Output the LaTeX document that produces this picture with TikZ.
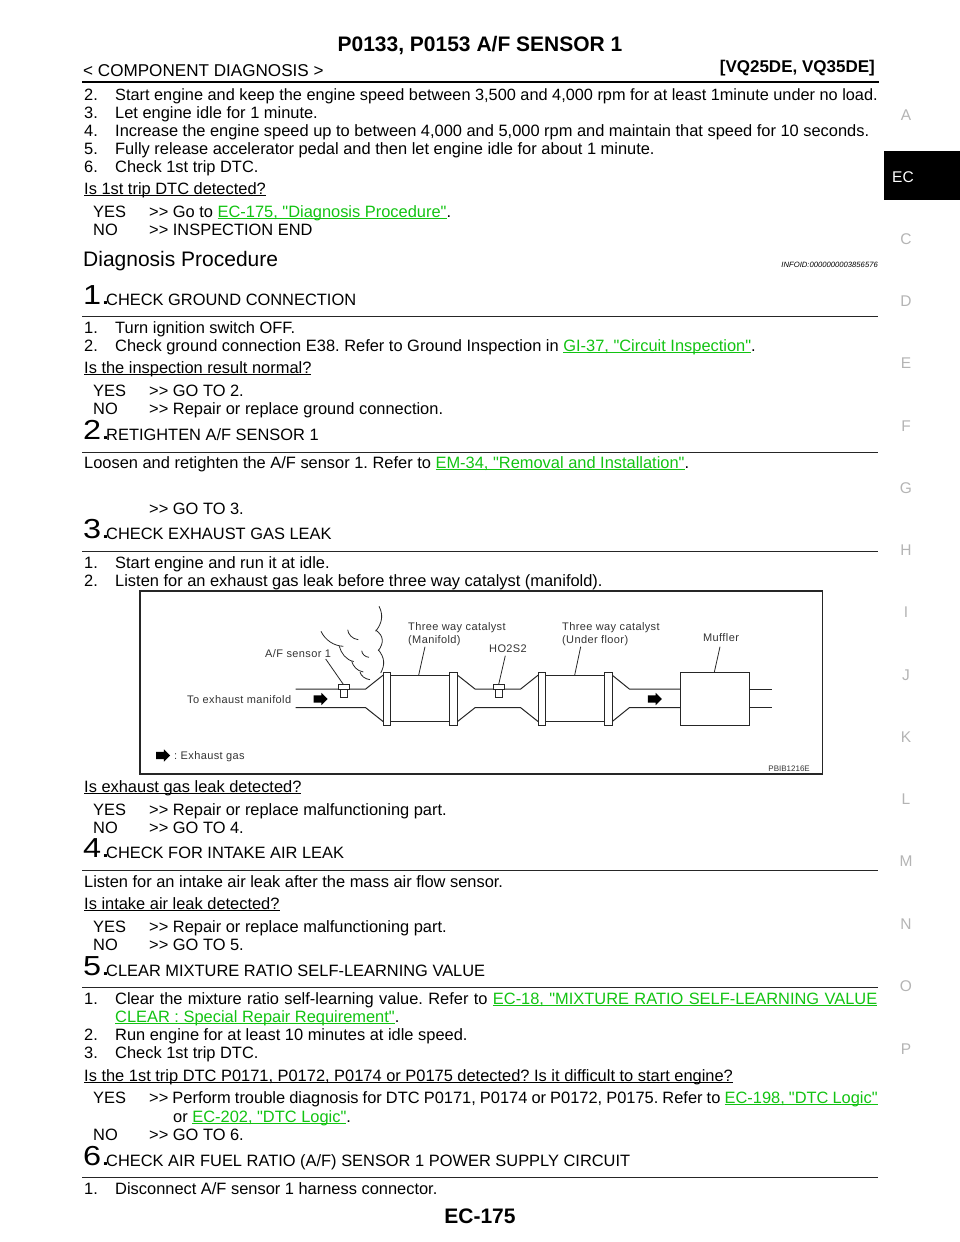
\documentclass[tikz,border=0pt]{standalone}
\usepackage{fontspec}
\defaultfontfeatures[\rmfamily]{Scale=1}
\setmainfont{Liberation Sans}
\newfontfamily\lblfont[LetterSpace=3.5]{Liberation Sans}
\newfontfamily\numfont[FakeStretch=1.18]{Liberation Sans}
\usetikzlibrary{shapes.arrows}
\definecolor{linkgreen}{HTML}{12C312}
\definecolor{sidegray}{HTML}{B4B4B4}
\newcommand{\ulined}[1]{\setbox0\hbox{#1}\rlap{\rule[-2.2pt]{\wd0}{0.9pt}}\box0}
\newcommand{\lnk}[1]{{\color{linkgreen}\ulined{#1}}}
\tikzset{
  txt/.style={anchor=base west,inner sep=0pt,font=\fontsize{16.42}{18}\selectfont},
  txtfit/.style={anchor=base west,inner sep=0pt,font=\fontsize{16.31}{18}\selectfont},
  num/.style={anchor=base west,inner sep=0pt,font=\numfont\fontsize{27.5}{32}\selectfont},
  side/.style={anchor=base,inner sep=0pt,text=sidegray,font=\fontsize{15.5}{18}\selectfont},
  lbl/.style={anchor=base west,inner sep=0pt,text=black!80,font=\lblfont\fontsize{11}{12}\selectfont},
  part/.style={draw=black!85,fill=white,line width=1pt,inner sep=0pt},
  gasarrow/.style={single arrow,fill=black,inner sep=3.5pt,minimum height=14pt,single arrow head extend=2.5pt},
  rul/.style={line width=1pt,black!85},
  pipe/.style={line width=1pt,black!85},
  thin line/.style={line width=.8pt,black!85}
}
\frenchspacing
\begin{document}
\begin{tikzpicture}[x=1pt,y=-1pt]
\useasboundingbox (0,0) rectangle (960,1242);
% header
\node [anchor=base,inner sep=0pt,font=\fontsize{21}{24}\selectfont\bfseries, name=title] at (480,51) {P0133, P0153 A/F SENSOR 1};
\node [anchor=base west,inner sep=0pt,font=\fontsize{17.1}{18}\selectfont, name=comp] at (83,76) {< COMPONENT DIAGNOSIS >};
\node [anchor=base east,inner sep=0pt,font=\fontsize{17}{18}\selectfont\bfseries, name=eng] at (875,72) {[VQ25DE, VQ35DE]};
\draw [line width=2pt] (82,82) -- (879,82);
\fill [black] (884,151) rectangle (960,200);
\node [anchor=base west,inner sep=0pt,text=white,font=\fontsize{15.5}{18}\selectfont, name=tabec] at (892,182) {EC};
% side letters
\node [side, name=sa] at (906,120) {A};
\node [side, name=sc] at (906,244) {C};
\node [side, name=sd] at (906,306) {D};
\node [side, name=se] at (906,368) {E};
\node [side, name=sf] at (906,431) {F};
\node [side, name=sg] at (906,493) {G};
\node [side, name=sh] at (906,555) {H};
\node [side, name=si] at (906,617) {I};
\node [side, name=sj] at (906,680) {J};
\node [side, name=sk] at (906,742) {K};
\node [side, name=sl] at (906,804) {L};
\node [side, name=sm] at (906,866) {M};
\node [side, name=sn] at (906,929) {N};
\node [side, name=so] at (906,991) {O};
\node [side, name=sp] at (906,1054) {P};
% top of page
\node [txt, name=t2n] at (84,100) {2.};
\node [txtfit, name=t2] at (115,100) {Start engine and keep the engine speed between 3,500 and 4,000 rpm for at least 1minute under no load.};
\node [txt, name=t3n] at (84,118) {3.};
\node [txt, name=t3] at (115,118) {Let engine idle for 1 minute.};
\node [txt, name=t4n] at (84,136) {4.};
\node [txt, name=t4] at (115,136) {Increase the engine speed up to between 4,000 and 5,000 rpm and maintain that speed for 10 seconds.};
\node [txt, name=t5n] at (84,154) {5.};
\node [txt, name=t5] at (115,154) {Fully release accelerator pedal and then let engine idle for about 1 minute.};
\node [txt, name=t6n] at (84,172) {6.};
\node [txt, name=t6] at (115,172) {Check 1st trip DTC.};
\node [txt, name=q0] at (84,194) {\ulined{Is 1st trip DTC detected?}};
\node [txt, name=y0] at (93,217) {YES};
\node [txt, name=y0a] at (149,217) {>> Go to \lnk{EC-175, "Diagnosis Procedure"}.};
\node [txt, name=n0] at (93,235) {NO};
\node [txt, name=n0a] at (149,235) {>> INSPECTION END};
\node [anchor=base west,inner sep=0pt,font=\fontsize{21}{24}\selectfont, name=diag] at (83,266) {Diagnosis Procedure};
\node [anchor=base east,inner sep=0pt,font=\fontsize{7.67}{10}\selectfont\itshape, name=info] at (878,267) {INFOID:0000000003856576};
% step 1
\node [num, name=s1n] at (83,304) {1.};
\node [txt, name=s1] at (106,305) {CHECK GROUND CONNECTION};
\draw [rul] (82,316) -- (878,316);
\node [txt, name=s1a] at (84,333) {1.};
\node [txt, name=s1b] at (115,333) {Turn ignition switch OFF.};
\node [txt, name=s1c] at (84,351) {2.};
\node [txt, name=s1d] at (115,351) {Check ground connection E38. Refer to Ground Inspection in \lnk{GI-37, "Circuit Inspection"}.};
\node [txt, name=q1] at (84,373) {\ulined{Is the inspection result normal?}};
\node [txt, name=y1] at (93,396) {YES};
\node [txt, name=y1a] at (149,396) {>> GO TO 2.};
\node [txt, name=n1] at (93,414) {NO};
\node [txt, name=n1a] at (149,414) {>> Repair or replace ground connection.};
% step 2
\node [num, name=s2n] at (83,439.5) {2.};
\node [txt, name=s2] at (106,440.5) {RETIGHTEN A/F SENSOR 1};
\draw [rul] (82,452) -- (878,452);
\node [txt, name=s2a] at (84,468) {Loosen and retighten the A/F sensor 1. Refer to \lnk{EM-34, "Removal and Installation"}.};
\node [txt, name=s2b] at (149,514) {>> GO TO 3.};
% step 3
\node [num, name=s3n] at (83,538) {3.};
\node [txt, name=s3] at (106,539) {CHECK EXHAUST GAS LEAK};
\draw [rul] (82,551) -- (878,551);
\node [txt, name=s3a] at (84,568) {1.};
\node [txt, name=s3b] at (115,568) {Start engine and run it at idle.};
\node [txt, name=s3c] at (84,586) {2.};
\node [txt, name=s3d] at (115,586) {Listen for an exhaust gas leak before three way catalyst (manifold).};
% exhaust picture
\draw [line width=1.5pt,black!85] (140,591) rectangle (822.5,774);
% pipes
\draw [pipe] (295.7,689) -- (365.7,689) -- (383.3,675);
\draw [pipe] (295.7,707.7) -- (365.7,707.7) -- (383.3,721.7);
\draw [pipe] (457.3,675) -- (475,689) -- (520.7,689) -- (538.3,675);
\draw [pipe] (457.3,721.7) -- (475,707.7) -- (520.7,707.7) -- (538.3,721.7);
\draw [pipe] (612,675) -- (629.3,689) -- (680,689);
\draw [pipe] (612,721.7) -- (629.3,707.7) -- (680,707.7);
\draw [pipe] (749.3,689) -- (771.7,689);
\draw [pipe] (749.3,707.7) -- (771.7,707.7);
% catalysts and muffler
\node [part, minimum width=59pt, minimum height=46.7pt, name=cat1] at (420.2,698.4) {};
\node [part, minimum width=7.4pt, minimum height=53pt, name=f1] at (387,698.8) {};
\node [part, minimum width=7.6pt, minimum height=53pt, name=f2] at (453.5,698.8) {};
\node [part, minimum width=59pt, minimum height=46.7pt, name=cat2] at (575.2,698.4) {};
\node [part, minimum width=7.4pt, minimum height=53pt, name=f3] at (542,698.8) {};
\node [part, minimum width=7.4pt, minimum height=53pt, name=f4] at (608.3,698.8) {};
\node [part, minimum width=69.3pt, minimum height=53pt, name=muf] at (714.7,698.8) {};
% sensors
\node [part, minimum width=6.6pt, minimum height=8pt, name=st1] at (344,693) {};
\node [part, minimum width=11.3pt, minimum height=4.7pt, name=sh1] at (344.3,686.7) {};
\node [part, minimum width=7pt, minimum height=8pt, name=st2] at (498.8,693) {};
\node [part, minimum width=11.3pt, minimum height=4.7pt, name=sh2] at (499,686.7) {};
% smoke
\draw [thin line] (379,606.3) .. controls (383,614) and (383,622) .. (375.7,631.3);
\draw [thin line] (375.7,630) .. controls (384,636) and (384,643) .. (378.3,650.7);
\draw [thin line] (378.3,649.7) .. controls (385,658) and (385,665) .. (380.7,673);
\draw [thin line] (321,631.3) .. controls (325,640) and (334,646) .. (343.3,646.3);
\draw [thin line] (339.3,646.3) .. controls (341,653) and (346,660) .. (353.7,661.5);
\draw [thin line] (351.7,661.3) .. controls (353,666) and (357,671) .. (363.3,672);
\draw [thin line] (360,672) .. controls (361,676) and (365,679) .. (370,679.7);
\draw [thin line] (347.7,629.7) .. controls (348,634) and (352,639) .. (358.3,639.7);
\draw [thin line] (361.7,650.7) .. controls (362,654) and (365,657) .. (369,657.3);
% flow arrows
\node [gasarrow, name=g1] at (318.7,699) {};
\node [gasarrow, name=g2] at (653,699) {};
\node [gasarrow, name=g3] at (161.3,755.5) {};
% labels
\node [lbl, name=la] at (265,657) {A/F sensor 1};
\node [lbl, name=lb] at (187,703) {To exhaust manifold};
\node [lbl, name=lc] at (408,630) {Three way catalyst};
\node [lbl, name=ld] at (408,643) {(Manifold)};
\node [lbl, name=le] at (489,652) {HO2S2};
\node [lbl, name=lf] at (562,630) {Three way catalyst};
\node [lbl, name=lg] at (562,643) {(Under floor)};
\node [lbl, name=lh] at (703,641) {Muffler};
\node [lbl, name=li] at (174,759) {: Exhaust gas};
\node [anchor=base east,inner sep=0pt,text=black!80,font=\fontsize{8}{10}\selectfont, name=lj] at (810,771) {PBIB1216E};
% leaders
\coordinate (e1) at (325.7,659);
\coordinate (e2) at (505.3,655.7);
\coordinate (e3) at (425,646.7);
\coordinate (e4) at (580.7,646.7);
\coordinate (e5) at (720,646.7);
\coordinate (p3) at (418.7,675);
\coordinate (p4) at (574.7,675);
\coordinate (p5) at (714.3,672.3);
\coordinate (p1) at (343.3,684.3);
\coordinate (p2) at (498.7,684.3);
\draw [thin line] (e1) -- (p1);
\draw [thin line] (e2) -- (p2);
\draw [thin line] (e3) -- (p3);
\draw [thin line] (e4) -- (p4);
\draw [thin line] (e5) -- (p5);
% step 3 result
\node [txt, name=q3] at (84,792) {\ulined{Is exhaust gas leak detected?}};
\node [txt, name=y3] at (93,815) {YES};
\node [txt, name=y3a] at (149,815) {>> Repair or replace malfunctioning part.};
\node [txt, name=n3] at (93,833) {NO};
\node [txt, name=n3a] at (149,833) {>> GO TO 4.};
% step 4
\node [num, name=s4n] at (83,857.3) {4.};
\node [txt, name=s4] at (106,858.5) {CHECK FOR INTAKE AIR LEAK};
\draw [rul] (82,870) -- (878,870);
\node [txt, name=s4a] at (84,887) {Listen for an intake air leak after the mass air flow sensor.};
\node [txt, name=q4] at (84,909) {\ulined{Is intake air leak detected?}};
\node [txt, name=y4] at (93,932) {YES};
\node [txt, name=y4a] at (149,932) {>> Repair or replace malfunctioning part.};
\node [txt, name=n4] at (93,950) {NO};
\node [txt, name=n4a] at (149,950) {>> GO TO 5.};
% step 5
\node [num, name=s5n] at (83,975) {5.};
\node [txt, name=s5] at (106,976) {CLEAR MIXTURE RATIO SELF-LEARNING VALUE};
\draw [rul] (82,987) -- (878,987);
\node [txt, name=s5a] at (84,1004) {1.};
\node [txt, name=s5b] at (115,1004) {\spaceskip=5.35pt Clear the mixture ratio self-learning value. Refer to \lnk{EC-18, "MIXTURE RATIO SELF-LEARNING VALUE}};
\node [txt, name=s5c] at (115,1022) {\lnk{CLEAR : Special Repair Requirement"}.};
\node [txt, name=s5d] at (84,1040) {2.};
\node [txt, name=s5e] at (115,1040) {Run engine for at least 10 minutes at idle speed.};
\node [txt, name=s5f] at (84,1058) {3.};
\node [txt, name=s5g] at (115,1058) {Check 1st trip DTC.};
\node [txt, name=q5] at (84,1081) {\ulined{Is the 1st trip DTC P0171, P0172, P0174 or P0175 detected? Is it difficult to start engine?}};
\node [txt, name=y5] at (93,1103) {YES};
\node [txt, name=y5a] at (149,1103) {\spaceskip=4.1pt >> Perform trouble diagnosis for DTC P0171, P0174 or P0172, P0175. Refer to \lnk{EC-198, "DTC Logic"}};
\node [txt, name=y5b] at (173,1122) {or \lnk{EC-202, "DTC Logic"}.};
\node [txt, name=n5] at (93,1140) {NO};
\node [txt, name=n5a] at (149,1140) {>> GO TO 6.};
% step 6
\node [num, name=s6n] at (83,1165) {6.};
\node [txt, name=s6] at (106,1166) {CHECK AIR FUEL RATIO (A/F) SENSOR 1 POWER SUPPLY CIRCUIT};
\draw [rul] (82,1177) -- (878,1177);
\node [txt, name=s6a] at (84,1194) {1.};
\node [txt, name=s6b] at (115,1194) {Disconnect A/F sensor 1 harness connector.};
\node [anchor=base,inner sep=0pt,font=\fontsize{21}{24}\selectfont\bfseries, name=pageno] at (480,1223) {EC-175};
\end{tikzpicture}
\end{document}
